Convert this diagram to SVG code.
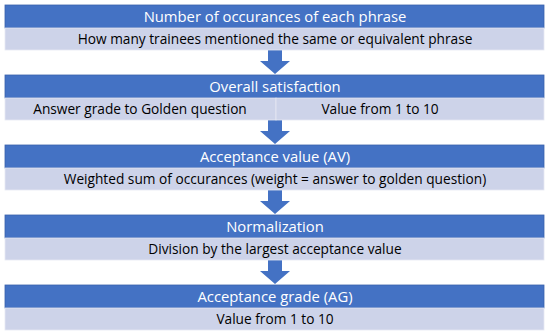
<svg xmlns="http://www.w3.org/2000/svg" width="550" height="333" viewBox="0 0 550 333">
<style>
.hd{fill:#4472C4;stroke:#3A62AC;stroke-width:0.8}
.lt{fill:#CDD3E9;stroke:#E6E9F3;stroke-width:0.8}
.ht{font-family:"Open Sans","Liberation Sans",Arial,sans-serif;font-size:14.8px;fill:#FFFFFF;text-anchor:middle}
.bt{font-family:"Open Sans","Liberation Sans",Arial,sans-serif;font-size:13.7px;fill:#000000;text-anchor:middle}
.ar{fill:#4472C4}
</style>
<rect width="550" height="333" fill="#FFFFFF"/>
<g id="connectors">
<path class="ar" d="M268,50 H282 V61 H290 L275,74 L260,61 H268 Z"/>
<path class="ar" d="M268,120 H282 V131 H290 L275,144 L260,131 H268 Z"/>
<path class="ar" d="M268,190 H282 V201 H290 L275,214 L260,201 H268 Z"/>
<path class="ar" d="M268,260 H282 V271 H290 L275,284 L260,271 H268 Z"/>
</g>
<g id="node1">
<rect class="hd" x="5" y="5" width="539" height="23"/>
<rect class="lt" x="5" y="28" width="539" height="22"/>
<text class="ht" x="275" y="21.8">Number of occurances of each phrase</text>
<text class="bt" x="275" y="43.8">How many trainees mentioned the same or equivalent phrase</text>
</g>
<g id="node2">
<rect class="hd" x="5" y="75" width="539" height="23"/>
<rect class="lt" x="5" y="98" width="271" height="22"/>
<rect class="lt" x="276" y="98" width="268" height="22"/>
<text class="ht" x="275" y="91.8">Overall satisfaction</text>
<text class="bt" x="140" y="113.8">Answer grade to Golden question</text>
<text class="bt" x="380" y="113.8">Value from 1 to 10</text>
</g>
<g id="node3">
<rect class="hd" x="5" y="145" width="539" height="23"/>
<rect class="lt" x="5" y="168" width="539" height="22"/>
<text class="ht" x="275" y="161.8">Acceptance value (AV)</text>
<text class="bt" x="275" y="183.8">Weighted sum of occurances (weight = answer to golden question)</text>
</g>
<g id="node4">
<rect class="hd" x="5" y="215" width="539" height="23"/>
<rect class="lt" x="5" y="238" width="539" height="22"/>
<text class="ht" x="275" y="231.8">Normalization</text>
<text class="bt" x="275" y="253.8">Division by the largest acceptance value</text>
</g>
<g id="node5">
<rect class="hd" x="5" y="285" width="539" height="23"/>
<rect class="lt" x="5" y="308" width="539" height="22"/>
<text class="ht" x="275" y="301.8">Acceptance grade (AG)</text>
<text class="bt" x="275" y="323.8">Value from 1 to 10</text>
</g>
</svg>
